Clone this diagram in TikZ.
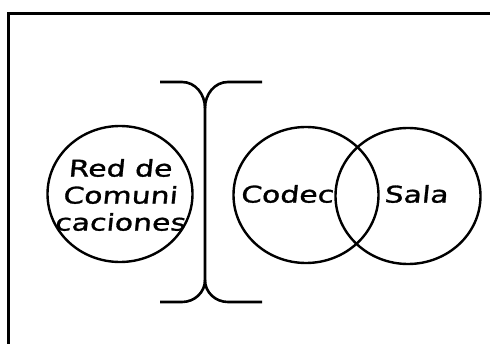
\documentclass[tikz,border=0pt]{standalone}
\usepackage{fontspec}
\usetikzlibrary{shapes.geometric}
\newfontfamily\labelfont[FakeStretch=1.3,FakeSlant=0.1,FakeBold=1.2]{DejaVu Sans}
\begin{document}
\begin{tikzpicture}[x=1pt,y=-1pt,
  ring/.style={draw,line width=2.4pt,ellipse,minimum width=145pt,minimum height=136pt,inner sep=0pt},
  lbl/.style={font=\labelfont\fontsize{23}{27}\selectfont,inner sep=0pt,align=center},
  bar/.style={line width=2.6pt,line cap=butt}]
\useasboundingbox (0,0) rectangle (490,344);
\clip (0,0) rectangle (490,344);
% outer frame, running off the right and bottom edges
\draw[line width=3pt] (8,14) rectangle (520,380);
% the three rings
\node[ring] (red) at (120,194) {};
\node[ring] (codec) at (306,195) {};
\node[ring] (sala) at (408,196) {};
\node[lbl] (redtxt) at (120,195) {Red de\\Comuni\\caciones};
\node[lbl] (codectxt) at (287,194) {Codec};
\node[lbl] (salatxt) at (416,194) {Sala};
% I-shaped separator between network and codec
\coordinate (tl) at (160,82);
\coordinate (tr) at (262,82);
\coordinate (bl) at (160,302);
\coordinate (br) at (262,302);
\coordinate (vt) at (205,108);
\coordinate (vb) at (205,280);
\draw[bar] (tl) -- (182,82) to[out=0,in=90] (vt) -- (vb) to[out=-90,in=0] (182,302) -- (bl);
\draw[bar] (tr) -- (228,82) to[out=180,in=90] (vt);
\draw[bar] (vb) to[out=-90,in=180] (228,302) -- (br);
\end{tikzpicture}
\end{document}
